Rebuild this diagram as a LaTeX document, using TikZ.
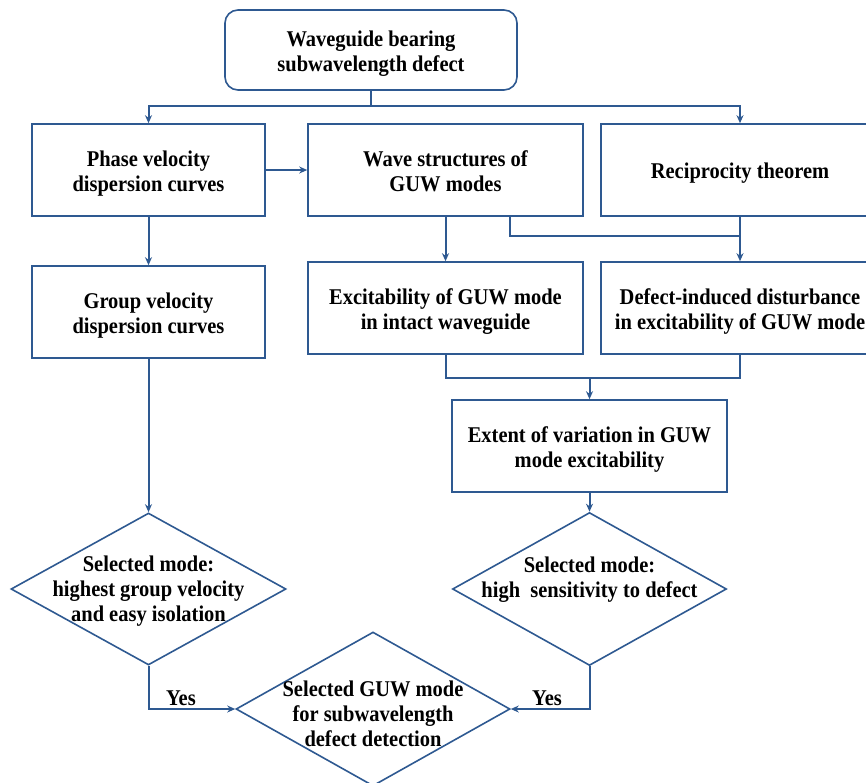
\documentclass[tikz,border=0pt]{standalone}
\usepackage{fontspec}
\setmainfont{Liberation Serif}[FakeStretch=0.91]
\usetikzlibrary{shapes.geometric,arrows.meta}
\definecolor{lnblue}{RGB}{46,89,145}
\newcommand{\dtxt}[2]{\raisebox{#1}[0pt][0pt]{\begin{tabular}{@{}c@{}}#2\end{tabular}}}
\begin{document}
\begin{tikzpicture}[x=1pt,y=-1pt,
  every node/.style={font=\bfseries\fontsize{22.5}{25}\selectfont, text=black},
  box/.style={draw=lnblue, line width=1.6pt, rectangle, inner sep=0pt},
  dbox/.style={draw=lnblue, line width=1.6pt, diamond, inner sep=0pt, aspect=1.8},
  conn/.style={draw=lnblue, line width=2pt},
  arr/.style={draw=lnblue, line width=2pt, -{Stealth[length=8pt,width=7pt]}}]
\useasboundingbox (0,0) rectangle (866,782);

\node[box, rounded corners=13pt, minimum width=292pt, minimum height=80pt] (top) at (371,50) {\dtxt{-9.5pt}{Waveguide bearing\\subwavelength defect}};
\node[box, minimum width=233pt, minimum height=92pt] (phase) at (148.5,170) {\dtxt{-9pt}{Phase velocity\\dispersion curves}};
\node[box, minimum width=275pt, minimum height=92pt] (wave) at (445.5,170) {\dtxt{-9pt}{Wave structures of\\GUW modes}};
\node[box, minimum width=278pt, minimum height=92pt] (recip) at (740,170) {\dtxt{-9pt}{Reciprocity theorem}};
\node[box, minimum width=233pt, minimum height=92pt] (group) at (148.5,312) {\dtxt{-9pt}{Group velocity\\dispersion curves}};
\node[box, minimum width=275pt, minimum height=92pt] (excit) at (445.5,308) {\dtxt{-9.5pt}{Excitability of GUW mode\\in intact waveguide}};
\node[box, minimum width=278pt, minimum height=92pt] (defect) at (740,308) {\dtxt{-9.5pt}{Defect-induced disturbance\\in excitability of GUW mode}};
\node[box, minimum width=275pt, minimum height=92pt] (extent) at (589.5,446) {\dtxt{-9.5pt}{Extent of variation in GUW\\mode excitability}};

\node[dbox, minimum width=275pt, minimum height=152pt] (d1) at (148.5,589) {\dtxt{-8pt}{Selected mode:\\highest group velocity\\and easy isolation}};
\node[dbox, minimum width=274pt, minimum height=153pt] (d2) at (589.5,589) {\dtxt{3.5pt}{Selected mode:\\high~ sensitivity to defect}};
\node[dbox, minimum width=274pt, minimum height=154pt] (d3) at (373,709) {\dtxt{-13pt}{Selected GUW mode\\for subwavelength\\defect detection}};

\coordinate (j1) at (371,106);
\draw[conn] (top.south) -- (j1);
\draw[arr] (j1) -| (phase.north);
\draw[arr] (j1) -| (recip.north);
\draw[arr] (phase.east) -- (wave.west);
\draw[arr] (phase.south) -- (group.north);
\draw[arr] (wave.south) -- (excit.north);
\coordinate (j2) at (510,236);
\draw[conn] (wave.south -| j2) -- (j2) -- (j2 -| recip.south);
\draw[arr] (recip.south) -- (defect.north);
\coordinate (j3) at (589.5,378);
\draw[conn] (excit.south) |- (j3) -| (defect.south);
\draw[arr] (j3) -- (extent.north);
\draw[arr] (extent.south) -- (d2.north);
\draw[arr] (group.south) -- (d1.north);
\draw[arr] (d1.south) |- (d3.west);
\draw[arr] (d2.south) |- (d3.east);
\node (yes1) at (181,698) {Yes};
\node (yes2) at (547,698) {Yes};
\end{tikzpicture}
\end{document}
